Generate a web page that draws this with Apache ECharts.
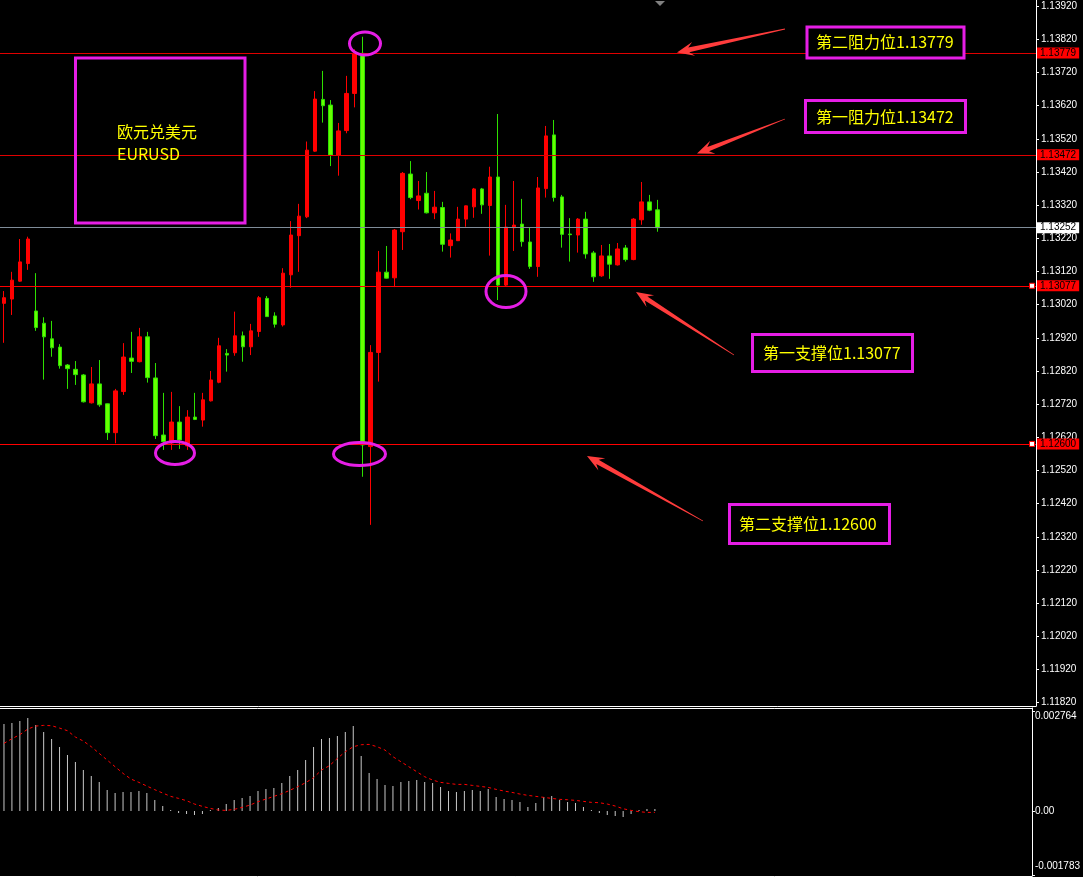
<!DOCTYPE html>
<html><head><meta charset="utf-8">
<script src="https://cdn.jsdelivr.net/npm/echarts@6/dist/echarts.min.js"></script>
<style>html,body{margin:0;padding:0;background:#000;}#c{width:1083px;height:877px;}</style>
</head><body><div id="c"></div>
<script>
// ---------------- data ----------------
const barSlots = 130;
const categories = Array.from({length: barSlots}, (_, i) => 'B' + i);
// [open, close, low, high]
const candles = [
 [1.13024,1.13041,1.12905,1.13061],[1.13037,1.13094,1.12989,1.13119],[1.13091,1.13149,1.13089,1.13218],[1.13144,1.13218,1.13125,1.13225],
 [1.13001,1.12951,1.12941,1.13115],[1.12964,1.12923,1.12794,1.12982],[1.12917,1.12890,1.12863,1.12971],[1.12892,1.12836,1.12827,1.12901],
 [1.12838,1.12827,1.12766,1.12841],[1.12825,1.12809,1.12778,1.12850],[1.12808,1.12727,1.12725,1.12811],[1.12724,1.12781,1.12722,1.12832],
 [1.12781,1.12718,1.12712,1.12853],[1.12721,1.12634,1.12612,1.12722],[1.12634,1.12760,1.12602,1.12766],[1.12758,1.12862,1.12748,1.12904],
 [1.12859,1.12849,1.12814,1.12938],[1.12848,1.12923,1.12846,1.12950],[1.12923,1.12800,1.12785,1.12938],[1.12799,1.12625,1.12615,1.12844],
 [1.12627,1.12607,1.12582,1.12754],[1.12603,1.12666,1.12582,1.12757],[1.12666,1.12612,1.12585,1.12714],[1.12594,1.12681,1.12582,1.12702],
 [1.12681,1.12674,1.12672,1.12754],[1.12672,1.12733,1.12652,1.12754],[1.12730,1.12793,1.12728,1.12820],[1.12786,1.12896,1.12783,1.12920],
 [1.12873,1.12868,1.12818,1.12886],[1.12875,1.12926,1.12866,1.12999],[1.12926,1.12893,1.12848,1.12939],[1.12893,1.12941,1.12868,1.12962],
 [1.12939,1.13041,1.12923,1.13046],[1.13039,1.12984,1.12983,1.13046],[1.12986,1.12961,1.12951,1.12997],[1.12959,1.13115,1.12954,1.13130],
 [1.13110,1.13230,1.13071,1.13272],[1.13228,1.13287,1.13119,1.13324],[1.13285,1.13486,1.13281,1.13512],[1.13483,1.13640,1.13481,1.13664],
 [1.13639,1.13620,1.13569,1.13725],[1.13622,1.13471,1.13438,1.13637],[1.13471,1.13544,1.13409,1.13568],[1.13545,1.13657,1.13537,1.13710],
 [1.13657,1.13778,1.13615,1.13790],[1.13778,1.12597,1.12501,1.13828],[1.12592,1.12876,1.12356,1.12898],[1.12876,1.13118,1.12788,1.13182],
 [1.13118,1.13100,1.13099,1.13197],[1.13101,1.13245,1.13073,1.13248],[1.13240,1.13416,1.13185,1.13420],[1.13414,1.13343,1.13338,1.13453],
 [1.13334,1.13348,1.13307,1.13393],[1.13356,1.13297,1.13295,1.13420],[1.13297,1.13314,1.13278,1.13363],[1.13313,1.13202,1.13180,1.13330],
 [1.13198,1.13215,1.13162,1.13235],[1.13213,1.13278,1.13212,1.13315],[1.13278,1.13318,1.13255,1.13319],[1.13315,1.13369,1.13282,1.13372],
 [1.13369,1.13321,1.13294,1.13372],[1.13319,1.13405,1.13168,1.13436],[1.13405,1.13079,1.13034,1.13595],[1.13079,1.13254,1.13074,1.13321],
 [1.13252,1.13260,1.13182,1.13393],[1.13263,1.13210,1.13195,1.13339],[1.13209,1.13135,1.13128,1.13254],[1.13135,1.13372,1.13104,1.13405],
 [1.13370,1.13529,1.13343,1.13559],[1.13532,1.13343,1.13331,1.13577],[1.13345,1.13232,1.13192,1.13351],[1.13233,1.13231,1.13150,1.13281],
 [1.13230,1.13278,1.13177,1.13281],[1.13278,1.13173,1.13159,1.13300],[1.13176,1.13104,1.13089,1.13182],[1.13107,1.13167,1.13104,1.13200],
 [1.13167,1.13142,1.13098,1.13203],[1.13140,1.13188,1.13138,1.13206],[1.13191,1.13156,1.13150,1.13200],[1.13156,1.13278,1.13154,1.13281],
 [1.13276,1.13330,1.13261,1.13390],[1.13330,1.13305,1.13302,1.13351],[1.13306,1.13252,1.13240,1.13336]
];
const macdHist = [
 0.002397,0.002425,0.002480,0.002563,0.002370,0.002177,0.001984,0.001764,0.001543,0.001350,
 0.001130,0.000965,0.000799,0.000579,0.000496,0.000524,0.000524,0.000551,0.000496,0.000303,
 0.000138,0.000028,-0.000055,-0.000083,-0.000110,-0.000083,0.000028,0.000083,0.000193,0.000303,
 0.000358,0.000413,0.000551,0.000606,0.000634,0.000772,0.000965,0.001130,0.001405,0.001764,
 0.001984,0.002012,0.002067,0.002177,0.002342,0.001516,0.001047,0.000882,0.000717,0.000689,
 0.000799,0.000827,0.000854,0.000799,0.000772,0.000661,0.000551,0.000524,0.000551,0.000579,
 0.000551,0.000606,0.000386,0.000331,0.000303,0.000248,0.000110,0.000220,0.000386,0.000413,
 0.000303,0.000248,0.000220,0.000110,0.000028,-0.000055,-0.000110,-0.000138,-0.000165,-0.000083,
 0.000028,0.000055,0.000055
];
const macdSignal = [
 0.001865,0.001993,0.002104,0.002260,0.002342,0.002361,0.002352,0.002287,0.002214,0.002039,
 0.001929,0.001773,0.001589,0.001405,0.001222,0.001038,0.000882,0.000790,0.000689,0.000588,
 0.000496,0.000404,0.000349,0.000285,0.000193,0.000129,0.000073,0.000028,0.000018,0.000046,
 0.000101,0.000165,0.000257,0.000331,0.000404,0.000478,0.000570,0.000671,0.000781,0.000919,
 0.001130,0.001249,0.001451,0.001635,0.001773,0.001828,0.001837,0.001773,0.001681,0.001497,
 0.001360,0.001222,0.001084,0.000946,0.000854,0.000790,0.000762,0.000735,0.000735,0.000707,
 0.000680,0.000652,0.000597,0.000551,0.000514,0.000468,0.000432,0.000404,0.000377,0.000349,
 0.000322,0.000312,0.000294,0.000266,0.000239,0.000230,0.000193,0.000138,0.000064,0.000018,
 -0.000018,-0.000037,-0.000037
];
const priceTicks = [1.11820,1.11920,1.12020,1.12120,1.12220,1.12320,1.12420,1.12520,1.12620,1.12720,1.12820,
 1.12920,1.13020,1.13120,1.13220,1.13320,1.13420,1.13520,1.13620,1.13720,1.13820,1.13920];
const macdTicks = [0.002764, 0, -0.001783];
const macdTickLabels = ['0.002764', '0.00', '-0.001783'];
const levelNames = ['第二阻力位', '第一阻力位', '第一支撑位', '第二支撑位'];
const levelValues = [1.13779, 1.13472, 1.13077, 1.12600];
const bidPrice = 1.13252;
const titleLines = ['欧元兑美元', 'EURUSD'];

// ---------------- chart ----------------
const priceMax = 1.139388, priceMin = 1.118097;
const macdMax = 0.00284, macdMin = -0.00179;
const MAG = '#e61ee6', YEL = '#ffff00', ARW = '#ff3c3c';
const chart = echarts.init(document.getElementById('c'), null, {renderer: 'canvas'});

function arrow(x1, y1, x2, y2) {
  const dx = x2 - x1, dy = y2 - y1, L = Math.hypot(dx, dy);
  const ux = dx / L, uy = dy / L, nx = -uy, ny = ux;
  const headLen = 17, headW = 7, shaftW = 2.4, notch = 5;
  const bx = x2 - ux * headLen, by = y2 - uy * headLen;
  const jx = x2 - ux * (headLen - notch), jy = y2 - uy * (headLen - notch);
  return {type: 'polygon', z: 100, shape: {points: [
    [x1 + nx * 0.4, y1 + ny * 0.4], [jx + nx * shaftW, jy + ny * shaftW], [bx + nx * headW, by + ny * headW],
    [x2, y2], [bx - nx * headW, by - ny * headW], [jx - nx * shaftW, jy - ny * shaftW], [x1 - nx * 0.4, y1 - ny * 0.4]]},
    style: {fill: ARW}};
}
function box(x, y, w, h, filled) {
  return {type: 'rect', z: 100, shape: {x, y, width: w, height: h},
    style: {fill: filled ? '#000' : null, stroke: MAG, lineWidth: 3}};
}
function txt(x, y, s) {
  return {type: 'text', z: 101, x, y, style: {text: s, fill: YEL, fontSize: 16,
    fontFamily: 'Noto Sans CJK SC', align: 'left', verticalAlign: 'middle'}};
}
function ell(cx, cy, rx, ry) {
  return {type: 'ellipse', z: 100, shape: {cx, cy, rx, ry}, style: {fill: null, stroke: MAG, lineWidth: 3}};
}
const lvlText = i => levelNames[i] + levelValues[i].toFixed(5);

const graphics = [
  {type: 'polygon', z: 100, shape: {points: [[655, 1], [665, 1], [660, 6]]}, style: {fill: '#808080'}},
  box(75.5, 58, 169.5, 165, false), txt(117, 132, titleLines[0]), txt(117, 154, titleLines[1]),
  box(807, 27, 157, 31, true), txt(816, 41.5, lvlText(0)),
  box(805.5, 100.5, 160, 32, true), txt(816, 117, lvlText(1)),
  box(752.5, 334.5, 160, 37, true), txt(763, 353, lvlText(2)),
  box(729.5, 504.5, 160, 39, true), txt(739, 524, lvlText(3)),
  arrow(785, 29, 677, 52.5), arrow(785, 119, 697, 153.5), arrow(734, 355, 636, 292), arrow(703, 521, 587, 456),
  ell(365, 43.5, 15.5, 11.5), ell(175, 453, 19.5, 11.5), ell(359.5, 454, 26, 11.5), ell(506, 291.5, 20, 16)
];

const lineLabel = (bg, fg) => ({show: true, position: 'end', distance: 1, formatter: p => Number(p.value).toFixed(5),
  color: fg, backgroundColor: bg, padding: [1, 3, 0, 3], fontSize: 10, fontFamily: 'Liberation Sans'});
const levelLine = (v, color, bg) => ({yAxis: v, lineStyle: {color, width: 1, type: 'solid'}, label: lineLabel(bg, '#000')});

const option = {
  animation: false,
  backgroundColor: '#000',
  grid: [
    {left: -3, top: 0, width: 1039, height: 706},
    {left: -3, top: 708, width: 1039, height: 168}
  ],
  xAxis: [
    {gridIndex: 0, type: 'category', data: categories, boundaryGap: true,
     axisLine: {show: true, onZero: false, lineStyle: {color: '#fff'}}, axisTick: {show: false}, axisLabel: {show: false}, splitLine: {show: false}},
    {gridIndex: 1, type: 'category', data: categories, boundaryGap: true, position: 'bottom',
     axisLine: {show: true, onZero: false, lineStyle: {color: '#fff'}},
     axisTick: {show: true, alignWithLabel: true, interval: 7, length: 2, lineStyle: {color: '#fff'}},
     axisLabel: {show: false}, splitLine: {show: false}},
    {gridIndex: 1, type: 'category', data: categories, boundaryGap: true, position: 'top',
     axisLine: {show: true, onZero: false, lineStyle: {color: '#fff'}}, axisTick: {show: false}, axisLabel: {show: false}}
  ],
  yAxis: [
    {gridIndex: 0, type: 'value', position: 'right', min: priceMin, max: priceMax,
     axisLine: {show: true, lineStyle: {color: '#fff'}},
     axisTick: {show: true, length: 3, lineStyle: {color: '#fff'}, customValues: priceTicks},
     axisLabel: {show: true, color: '#fff', fontSize: 10, fontFamily: 'Liberation Sans', margin: 5,
       customValues: priceTicks, formatter: v => Number(v).toFixed(5)},
     splitLine: {show: false}},
    {gridIndex: 1, type: 'value', position: 'right', min: macdMin, max: macdMax,
     axisLine: {show: true, lineStyle: {color: '#fff'}},
     axisTick: {show: true, length: 3, lineStyle: {color: '#fff'}, customValues: macdTicks},
     axisLabel: {show: true, color: '#fff', fontSize: 10, fontFamily: 'Liberation Sans', margin: 3,
       customValues: macdTicks,
       formatter: v => {
         const i = macdTicks.findIndex(t => Math.abs(t - v) < 1e-9);
         const s = i >= 0 ? macdTickLabels[i] : '';
         return i === 0 ? '{t|' + s + '}' : i === 2 ? '{b|' + s + '}' : s;
       },
       rich: {t: {padding: [10, 0, 0, 0], color: '#fff', fontSize: 10, fontFamily: 'Liberation Sans'},
              b: {padding: [0, 0, 18, 0], color: '#fff', fontSize: 10, fontFamily: 'Liberation Sans'}}},
     splitLine: {show: false}}
  ],
  series: [
    {type: 'line', xAxisIndex: 0, yAxisIndex: 0, data: [], symbol: 'none', silent: true, z: 5,
     markLine: {silent: true, precision: 5, symbol: ['none', 'none'], animation: false, z: 5,
       data: [
         levelLine(levelValues[0], '#e00000', '#ff0000'),
         levelLine(levelValues[1], '#e00000', '#ff0000'),
         levelLine(bidPrice, '#7f8c99', '#ffffff'),
         levelLine(levelValues[2], '#ff0000', '#ff0000'),
         levelLine(levelValues[3], '#ff0000', '#ff0000')
       ]}},
    {type: 'candlestick', xAxisIndex: 0, yAxisIndex: 0, data: candles, barWidth: 4, z: 3,
     itemStyle: {color: '#ff0000', borderColor: '#ff0000', color0: '#66ff00', borderColor0: '#2ee000', borderWidth: 1}},
    {type: 'bar', xAxisIndex: 1, yAxisIndex: 1, data: macdHist, barWidth: 1, itemStyle: {color: '#c8c8c8'}},
    {type: 'line', xAxisIndex: 1, yAxisIndex: 1, data: macdSignal, symbol: 'none', smooth: false,
     lineStyle: {color: '#ff0000', width: 1, type: [3, 3]}}
  ],
  graphic: graphics
};
chart.setOption(option);

// anchor squares of the two support lines at the right edge
const anchors = [levelValues[2], levelValues[3]].map(v => {
  const y = chart.convertToPixel({yAxisIndex: 0}, v);
  return {type: 'rect', z: 102, shape: {x: 1029.5, y: y - 2.5, width: 5, height: 5},
    style: {fill: '#fff', stroke: '#ff0000', lineWidth: 1}};
});
chart.setOption({graphic: graphics.concat(anchors)});
</script></body></html>
